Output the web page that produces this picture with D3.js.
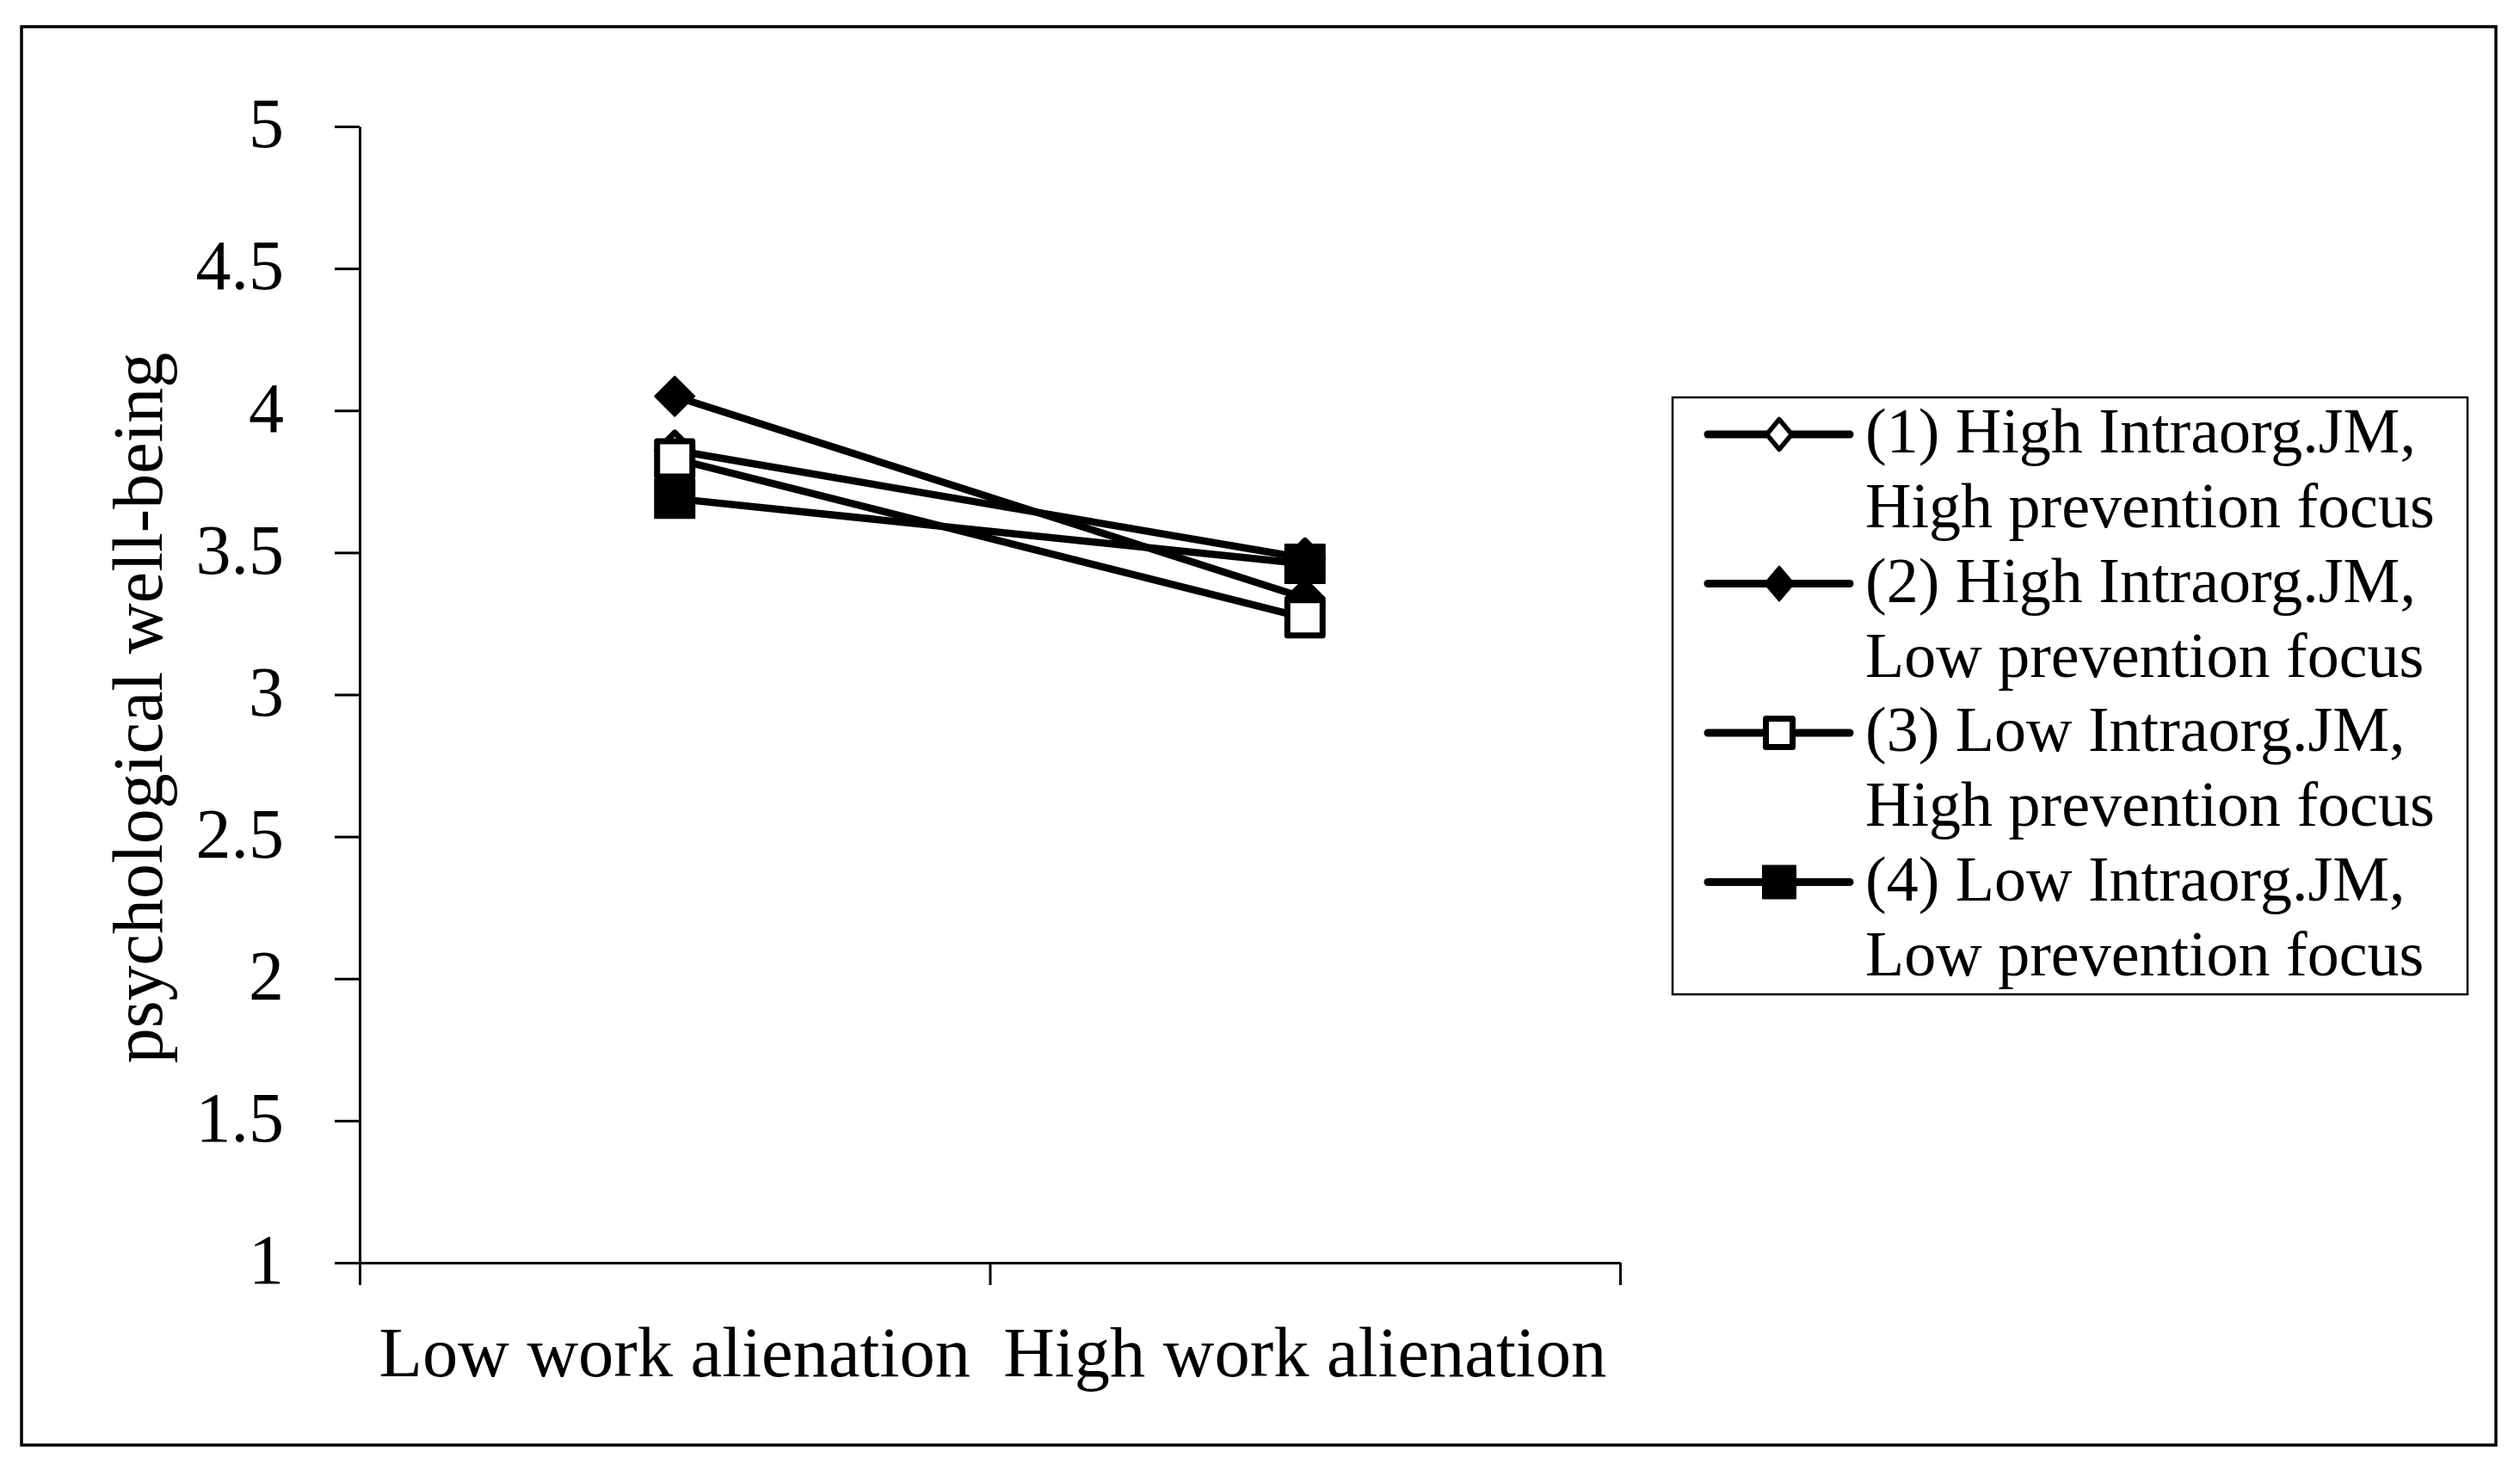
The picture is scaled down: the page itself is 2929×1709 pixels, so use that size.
<!DOCTYPE html>
<html>
<head>
<meta charset="utf-8">
<script src="https://cdn.jsdelivr.net/npm/d3@7"></script>
<style>
  html, body { margin: 0; padding: 0; background: #fff; }
  svg { display: block; }
  text { font-family: "Liberation Serif", "Times New Roman", serif; fill: #000; }
</style>
</head>
<body>
<svg id="chart" width="2929" height="1709"></svg>
<script>
// ---- data ----
const categories = ["Low work alienation", "High work alienation"];
const seriesNames = [
  "(1) High Intraorg.JM,\nHigh prevention focus",
  "(2) High Intraorg.JM,\nLow prevention focus",
  "(3) Low Intraorg.JM,\nHigh prevention focus",
  "(4) Low Intraorg.JM,\nLow prevention focus"
];
const series1 = [3.86, 3.48];
const series2 = [4.05, 3.34];
const series3 = [3.83, 3.27];
const series4 = [3.69, 3.46];
const markerTypes = ["diamondOpen", "diamondFilled", "squareOpen", "squareFilled"];
const yTicks = [1, 1.5, 2, 2.5, 3, 3.5, 4, 4.5, 5];
const yTitle = "psychological well-being";

const allSeries = [series1, series2, series3, series4];

// ---- layout ----
(function () {
const svg = d3.select("#chart");
const plotLeft = 418, plotRight = 1883, plotTop = 147, plotBottom = 1468;

// outer frame
svg.append("rect").attr("x", 25).attr("y", 31).attr("width", 2876).attr("height", 1649)
  .attr("fill", "#fff").attr("stroke", "#000").attr("stroke-width", 3.5);

const x = d3.scaleBand().domain(categories).range([plotLeft, plotRight]).padding(0);
const xc = c => x(c) + x.bandwidth() / 2;
const xLin = d3.scaleLinear().domain([0, categories.length]).range([plotLeft, plotRight]);
const y = d3.scaleLinear().domain([1, 5]).range([plotBottom, plotTop]);

// y axis
const yAxis = svg.append("g").attr("transform", `translate(${plotLeft},0)`)
  .call(d3.axisLeft(y).tickValues(yTicks).tickSize(29).tickSizeOuter(0).tickPadding(59)
    .tickFormat(d => String(d)));
yAxis.selectAll("path, line").attr("stroke", "#000").attr("stroke-width", 3);
yAxis.selectAll("text").attr("font-size", 82).attr("font-family", "Liberation Serif")
  .attr("dy", "0.29em").attr("fill", "#000");

// x axis (tick marks at category boundaries)
const xAxis = svg.append("g").attr("transform", `translate(0,${plotBottom})`)
  .call(d3.axisBottom(xLin).tickValues(d3.range(categories.length + 1)).tickSize(26)
    .tickSizeOuter(0).tickFormat(""));
xAxis.selectAll("path, line").attr("stroke", "#000").attr("stroke-width", 3);

// x labels
svg.append("g").selectAll("text").data(categories).join("text")
  .attr("x", d => xc(d)).attr("y", 1600).attr("text-anchor", "middle")
  .attr("font-size", 82.5).text(d => d);

// y title
svg.append("text").attr("transform", "translate(188,823) rotate(-90)")
  .attr("text-anchor", "middle").attr("font-size", 82).text(yTitle);

// marker drawing
function drawMarker(g, type, cx, cy, big) {
  if (type === "diamondFilled") {
    const hw = big ? 23 : 17, hh = big ? 23 : 20;
    g.append("path").attr("d", `M${cx},${cy - hh}L${cx + hw},${cy}L${cx},${cy + hh}L${cx - hw},${cy}Z`)
      .attr("fill", "#000").attr("stroke", "#000").attr("stroke-width", 2).attr("stroke-linejoin", "round");
  } else if (type === "diamondOpen") {
    const hw = big ? 20.5 : 14.5, hh = big ? 20.5 : 17.5;
    g.append("path").attr("d", `M${cx},${cy - hh}L${cx + hw},${cy}L${cx},${cy + hh}L${cx - hw},${cy}Z`)
      .attr("fill", "#fff").attr("stroke", "#000").attr("stroke-width", big ? 7 : 5.5).attr("stroke-linejoin", "round");
  } else if (type === "squareOpen") {
    const w = big ? 41 : 31, h = big ? 41 : 33;
    g.append("rect").attr("x", cx - w / 2).attr("y", cy - h / 2).attr("width", w).attr("height", h)
      .attr("fill", "#fff").attr("stroke", "#000").attr("stroke-width", 7).attr("stroke-linejoin", "round");
  } else {
    const w = big ? 46 : 38, h = big ? 45 : 38;
    g.append("rect").attr("x", cx - w / 2).attr("y", cy - h / 2).attr("width", w).attr("height", h)
      .attr("fill", "#000").attr("stroke", "#000").attr("stroke-width", 2).attr("stroke-linejoin", "round");
  }
}

// series lines + markers
const line = d3.line().x((d, i) => xc(categories[i])).y(d => y(d));
allSeries.forEach((vals, si) => {
  const g = svg.append("g");
  g.append("path").attr("d", line(vals)).attr("fill", "none").attr("stroke", "#000")
    .attr("stroke-width", 8.5).attr("stroke-linecap", "round");
  vals.forEach((v, i) => drawMarker(g, markerTypes[si], xc(categories[i]), y(v), true));
});

// legend
svg.append("rect").attr("x", 1944).attr("y", 462).attr("width", 924).attr("height", 694)
  .attr("fill", "#fff").attr("stroke", "#000").attr("stroke-width", 2.5);
seriesNames.forEach((name, i) => {
  const cy = 505 + i * 173.5;
  const g = svg.append("g");
  g.append("line").attr("x1", 1985).attr("x2", 2150).attr("y1", cy).attr("y2", cy)
    .attr("stroke", "#000").attr("stroke-width", 9).attr("stroke-linecap", "round");
  drawMarker(g, markerTypes[i], 2068, cy, false);
  name.split("\n").forEach((ln, j) => {
    g.append("text").attr("x", 2168).attr("y", cy + 21 + j * 87).attr("font-size", 74).text(ln);
  });
});
})();
</script>
</body>
</html>
